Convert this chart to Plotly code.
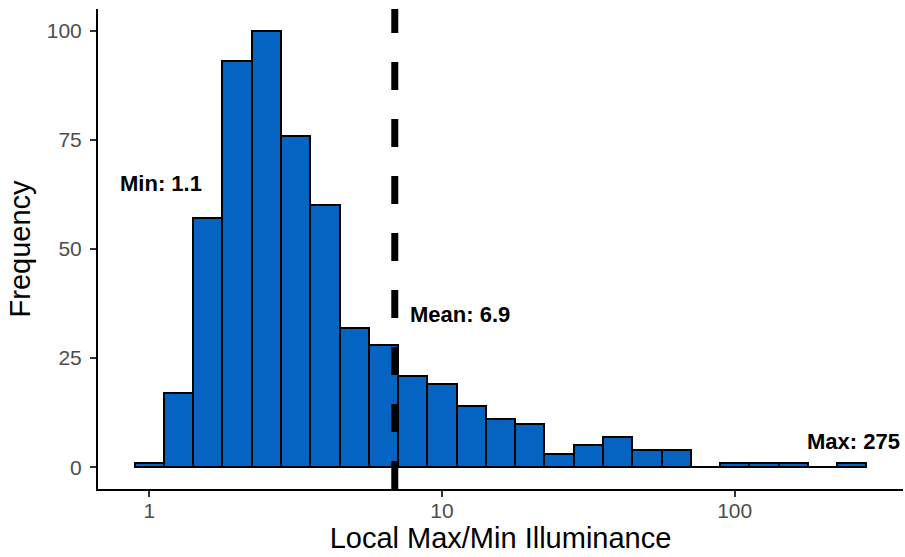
import plotly.graph_objects as go
import math

# Histogram bins (log10 of bin centers) and counts
bin_log_centers = [0.0, 0.1, 0.2, 0.3, 0.4, 0.5, 0.6, 0.7, 0.8, 0.9, 1.0, 1.1, 1.2,
                   1.3, 1.4, 1.5, 1.6, 1.7, 1.8, 1.9, 2.0, 2.1, 2.2, 2.3, 2.4]
counts = [1, 17, 57, 93, 100, 76, 60, 32, 28, 21, 19, 14, 11,
          10, 3, 5, 7, 4, 4, 0, 1, 1, 1, 0, 1]
bin_width_log = 0.1

tick_values = [1, 10, 100]
tick_labels = ["1", "10", "100"]

min_val = 1.1
mean_val = 6.9
max_val = 275

FONT = "Liberation Sans, Arial, Helvetica, sans-serif"

fig = go.Figure()
fig.add_trace(go.Bar(
    x=bin_log_centers, y=counts, width=bin_width_log,
    marker=dict(color="#0563C1", line=dict(color="black", width=2)),
    showlegend=False, hoverinfo="skip",
))

fig.add_shape(type="line", xref="x", yref="paper",
              x0=math.log10(mean_val), x1=math.log10(mean_val), y0=0, y1=1,
              line=dict(color="black", width=7, dash="28px,29px"), layer="above")

ann_font = dict(family=FONT, size=22, color="black")
fig.add_annotation(x=math.log10(min_val), y=65, text="<b>Min: 1.1</b>",
                   showarrow=False, font=ann_font, xanchor="center", yanchor="middle")
fig.add_annotation(x=0.885, y=35, text="<b>Mean: 6.9</b>",
                   showarrow=False, font=ann_font, xanchor="left", yanchor="middle")
fig.add_annotation(x=2.407, y=6, text="<b>Max: 275</b>",
                   showarrow=False, font=ann_font, xanchor="center", yanchor="middle")

fig.update_layout(
    width=905, height=557,
    margin=dict(l=98, r=2, t=9, b=68),
    paper_bgcolor="white", plot_bgcolor="white",
    bargap=0,
    xaxis=dict(
        range=[-0.175, 2.575],
        tickvals=[math.log10(v) for v in tick_values], ticktext=tick_labels,
        showline=True, linecolor="black", linewidth=2,
        ticks="outside", ticklen=6, tickwidth=2, tickcolor="#333333",
        tickfont=dict(family=FONT, size=21, color="#4D4D4D"),
        ticklabelstandoff=-4,
        showgrid=False, zeroline=False,
        title=dict(text="Local Max/Min Illuminance",
                   font=dict(family=FONT, size=29, color="black"), standoff=5),
    ),
    yaxis=dict(
        range=[-5, 105],
        tickvals=[0, 25, 50, 75, 100],
        showline=True, linecolor="black", linewidth=2,
        ticks="outside", ticklen=6, tickwidth=2, tickcolor="#333333",
        tickfont=dict(family=FONT, size=21, color="#4D4D4D"),
        ticklabelstandoff=4,
        showgrid=False, zeroline=False,
        title=dict(text="Frequency",
                   font=dict(family=FONT, size=29, color="black"), standoff=8),
    ),
)

fig.write_html("out.html")
